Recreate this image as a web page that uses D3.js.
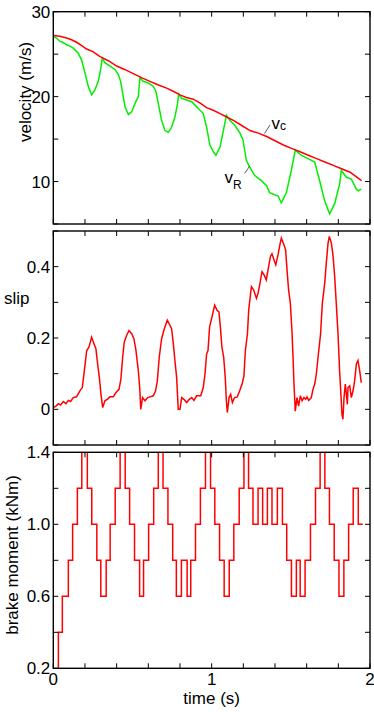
<!DOCTYPE html>
<html>
<head>
<meta charset="utf-8">
<script src="https://cdn.jsdelivr.net/npm/d3@7"></script>
<style>
  body { margin: 0; background: #fff; }
  text { font-family: "Liberation Sans", Arial, Helvetica, sans-serif; fill: #000; }
</style>
</head>
<body>
<div id="chart"></div>
<script>
var width = 374, height = 712;

// velocity panel
var vcTime = [0, 0.042, 0.084, 0.115, 0.147, 0.18, 0.21, 0.25, 0.295, 0.35, 0.4, 0.45, 0.505, 0.56, 0.61, 0.66, 0.716, 0.76, 0.8, 0.84, 0.884, 0.93, 0.968, 1.01, 1.053, 1.095, 1.137, 1.19, 1.242, 1.295, 1.347, 1.4, 1.453, 1.505, 1.558, 1.61, 1.663, 1.715, 1.768, 1.82, 1.874, 1.91, 1.947];
var vcValue = [27.2, 27.1, 26.9, 26.7, 26.4, 26.0, 25.6, 25.3, 24.7, 24.2, 23.6, 23.2, 22.7, 22.2, 21.8, 21.4, 21.0, 20.6, 20.2, 19.9, 19.7, 19.2, 18.7, 18.4, 18.0, 17.6, 17.2, 16.6, 16.0, 15.7, 15.3, 14.8, 14.3, 13.9, 13.5, 13.1, 12.7, 12.3, 11.9, 11.5, 11.1, 10.6, 10.1];

var vrTime = [0, 0.02, 0.042, 0.06, 0.084, 0.1, 0.126, 0.158, 0.179, 0.2, 0.221, 0.242, 0.263, 0.284, 0.299, 0.309, 0.326, 0.358, 0.389, 0.411, 0.425, 0.438, 0.453, 0.474, 0.495, 0.516, 0.537, 0.547, 0.568, 0.6, 0.632, 0.648, 0.663, 0.684, 0.705, 0.726, 0.747, 0.768, 0.783, 0.792, 0.811, 0.842, 0.874, 0.895, 0.916, 0.947, 0.968, 0.989, 1.011, 1.027, 1.053, 1.074, 1.093, 1.116, 1.147, 1.179, 1.198, 1.219, 1.24, 1.272, 1.314, 1.347, 1.366, 1.419, 1.44, 1.472, 1.503, 1.528, 1.566, 1.608, 1.651, 1.682, 1.714, 1.745, 1.777, 1.808, 1.819, 1.851, 1.882, 1.914, 1.926, 1.945];
var vrValue = [27.1, 26.9, 26.5, 26.4, 26.1, 26.0, 25.7, 25.1, 24.3, 22.8, 21.2, 20.2, 20.8, 21.8, 23.2, 24.5, 24.0, 23.6, 23.2, 22.6, 21.8, 20.4, 18.8, 17.9, 18.2, 19.2, 20.0, 22.2, 21.8, 21.6, 21.2, 20.6, 19.2, 17.2, 16.0, 15.8, 16.4, 17.6, 19.0, 20.3, 19.8, 19.6, 19.4, 19.0, 18.6, 18.0, 16.4, 14.3, 13.5, 13.1, 14.1, 16.0, 17.8, 17.2, 16.6, 15.7, 14.9, 12.5, 11.7, 10.7, 10.1, 9.5, 8.7, 8.3, 7.5, 8.7, 11.3, 13.7, 13.1, 12.7, 12.3, 10.1, 7.7, 6.2, 7.4, 9.7, 11.3, 10.5, 10.3, 9.1, 8.9, 9.1];

// slip panel
var slipTime = [0, 0.017, 0.032, 0.046, 0.063, 0.08, 0.095, 0.109, 0.126, 0.147, 0.168, 0.183, 0.196, 0.211, 0.225, 0.242, 0.257, 0.269, 0.28, 0.291, 0.301, 0.312, 0.326, 0.341, 0.358, 0.379, 0.396, 0.415, 0.427, 0.438, 0.448, 0.463, 0.478, 0.495, 0.509, 0.522, 0.537, 0.547, 0.552, 0.564, 0.579, 0.596, 0.611, 0.632, 0.646, 0.657, 0.669, 0.684, 0.701, 0.72, 0.737, 0.747, 0.758, 0.768, 0.779, 0.789, 0.8, 0.811, 0.825, 0.842, 0.859, 0.874, 0.888, 0.905, 0.931, 0.947, 0.958, 0.968, 0.977, 0.987, 1.002, 1.019, 1.034, 1.046, 1.055, 1.065, 1.076, 1.086, 1.093, 1.099, 1.11, 1.12, 1.131, 1.145, 1.162, 1.177, 1.192, 1.204, 1.213, 1.226, 1.234, 1.251, 1.266, 1.283, 1.293, 1.303, 1.318, 1.331, 1.345, 1.356, 1.371, 1.381, 1.394, 1.405, 1.419, 1.429, 1.44, 1.457, 1.467, 1.476, 1.486, 1.497, 1.507, 1.514, 1.52, 1.528, 1.539, 1.549, 1.56, 1.571, 1.583, 1.594, 1.602, 1.613, 1.629, 1.64, 1.651, 1.661, 1.672, 1.688, 1.699, 1.714, 1.724, 1.735, 1.743, 1.756, 1.766, 1.777, 1.787, 1.798, 1.808, 1.815, 1.823, 1.829, 1.836, 1.844, 1.851, 1.857, 1.861, 1.872, 1.882, 1.893, 1.903, 1.914, 1.924, 1.935, 1.945];
var slipValue = [0.005, 0.009, 0.016, 0.012, 0.022, 0.016, 0.025, 0.022, 0.033, 0.035, 0.052, 0.061, 0.108, 0.165, 0.174, 0.202, 0.184, 0.17, 0.127, 0.089, 0.042, 0.005, 0.024, 0.028, 0.035, 0.035, 0.047, 0.056, 0.085, 0.146, 0.188, 0.207, 0.221, 0.212, 0.198, 0.165, 0.108, 0.052, 0.0, 0.033, 0.024, 0.033, 0.035, 0.038, 0.052, 0.08, 0.146, 0.198, 0.226, 0.25, 0.235, 0.226, 0.184, 0.137, 0.089, 0.0, 0.0, 0.033, 0.028, 0.019, 0.028, 0.033, 0.025, 0.038, 0.038, 0.061, 0.099, 0.155, 0.165, 0.231, 0.259, 0.292, 0.278, 0.273, 0.231, 0.174, 0.146, 0.089, 0.024, -0.009, 0.033, 0.042, 0.019, 0.033, 0.035, 0.052, 0.071, 0.094, 0.165, 0.212, 0.278, 0.344, 0.334, 0.311, 0.325, 0.348, 0.386, 0.377, 0.363, 0.391, 0.428, 0.436, 0.419, 0.405, 0.433, 0.457, 0.48, 0.461, 0.447, 0.391, 0.334, 0.297, 0.221, 0.146, 0.071, -0.005, 0.033, 0.009, 0.038, 0.024, 0.033, 0.028, 0.035, 0.025, 0.033, 0.056, 0.071, 0.099, 0.146, 0.212, 0.297, 0.353, 0.41, 0.466, 0.485, 0.466, 0.433, 0.372, 0.297, 0.212, 0.108, 0.052, -0.014, -0.028, 0.033, 0.071, 0.042, 0.014, 0.061, 0.066, 0.033, 0.052, 0.08, 0.127, 0.137, 0.108, 0.075];

// brake moment: value holds from each time until the next one
var momentTime = [0.032, 0.032, 0.057, 0.095, 0.122, 0.152, 0.180, 0.215, 0.243, 0.275, 0.300, 0.334, 0.359, 0.391, 0.422, 0.454, 0.482, 0.513, 0.545, 0.570, 0.602, 0.634, 0.663, 0.693, 0.724, 0.754, 0.777, 0.809, 0.845, 0.868, 0.898, 0.929, 0.961, 0.993, 1.020, 1.050, 1.079, 1.111, 1.140, 1.174, 1.204, 1.233, 1.261, 1.293, 1.322, 1.352, 1.381, 1.415, 1.447, 1.474, 1.504, 1.535, 1.559, 1.590, 1.624, 1.656, 1.685, 1.715, 1.744, 1.774, 1.804, 1.835, 1.865, 1.894, 1.926, 1.954];
var momentValue = [0.2, 0.4, 0.6, 0.8, 1.0, 1.2, 1.4, 1.2, 1.0, 0.8, 0.6, 0.8, 1.0, 1.2, 1.4, 1.2, 1.0, 0.8, 0.6, 0.8, 1.0, 1.2, 1.4, 1.2, 1.0, 0.8, 0.6, 0.8, 0.6, 0.8, 1.0, 1.2, 1.4, 1.2, 1.0, 0.8, 0.6, 0.8, 1.0, 1.2, 1.4, 1.2, 1.0, 1.2, 1.0, 1.2, 1.0, 1.2, 1.0, 0.8, 0.6, 0.8, 0.6, 0.8, 1.0, 1.2, 1.4, 1.2, 1.0, 0.8, 0.6, 0.8, 1.0, 1.2, 1.0, 1.0];

var xTicks = [0, 0.2, 0.4, 0.6, 0.8, 1, 1.2, 1.4, 1.6, 1.8, 2];
var xLabels = [0, 1, 2];

var left = 53.3, right = 370;
var x = d3.scaleLinear().domain([0, 2]).range([left, right]);

var svg = d3.select('#chart').append('svg')
  .attr('width', width)
  .attr('height', height);

svg.append('rect').attr('width', width).attr('height', height).attr('fill', '#fff');

function zip(a, b) {
  return a.map(function(d, i) { return [d, b[i]]; });
}

// one boxed panel, MATLAB style ticks on all four sides
function panel(id, top, bottom, domain, yTicks, yLabels, fmt, showX) {
  var y = d3.scaleLinear().domain(domain).range([bottom, top]);
  var g = svg.append('g');

  g.append('clipPath').attr('id', id)
    .append('rect')
    .attr('x', left).attr('y', top)
    .attr('width', right - left).attr('height', bottom - top);

  var plot = g.append('g').attr('clip-path', 'url(#' + id + ')');

  var ticks = g.append('g').attr('stroke', '#000').attr('stroke-width', 1);
  yTicks.forEach(function(v) {
    ticks.append('line').attr('x1', left).attr('x2', left + 5).attr('y1', y(v)).attr('y2', y(v));
    ticks.append('line').attr('x1', right).attr('x2', right - 5).attr('y1', y(v)).attr('y2', y(v));
  });
  xTicks.forEach(function(v) {
    ticks.append('line').attr('x1', x(v)).attr('x2', x(v)).attr('y1', bottom).attr('y2', bottom - 5);
    ticks.append('line').attr('x1', x(v)).attr('x2', x(v)).attr('y1', top).attr('y2', top + 5);
  });

  g.selectAll('.ylab')
    .data(yLabels)
    .enter()
    .append('text')
    .attr('x', left - 3)
    .attr('y', function(d) { return y(d); })
    .attr('dy', '0.36em')
    .style('text-anchor', 'end')
    .style('font-size', '17px')
    .text(fmt);

  if (showX) {
    g.selectAll('.xlab')
      .data(xLabels)
      .enter()
      .append('text')
      .attr('x', function(d) { return x(d); })
      .attr('y', bottom + 17)
      .style('text-anchor', 'middle')
      .style('font-size', '17px')
      .text(function(d) { return d; });
  }

  return { y: y, plot: plot, g: g, top: top, bottom: bottom };
}

function frame(p) {
  p.g.append('rect')
    .attr('x', left).attr('y', p.top)
    .attr('width', right - left).attr('height', p.bottom - p.top)
    .attr('fill', 'none')
    .attr('stroke', '#000')
    .attr('stroke-width', 1.4);
}

// --- velocity
var p1 = panel('clipV', 11.7, 224, [5, 30], [5, 10, 15, 20, 25, 30], [10, 20, 30], function(d) { return d; }, false);
var lineV = d3.line().x(function(d) { return x(d[0]); }).y(function(d) { return p1.y(d[1]); });
p1.plot.append('path').attr('d', lineV(zip(vrTime, vrValue)))
  .attr('fill', 'none').attr('stroke', '#00ee00').attr('stroke-width', 1.5);
p1.plot.append('path').attr('d', lineV(zip(vcTime, vcValue)))
  .attr('fill', 'none').attr('stroke', '#ff0000').attr('stroke-width', 1.5);
frame(p1);

svg.append('text').attr('transform', 'translate(30.5,92) rotate(-90)')
  .style('text-anchor', 'middle').style('font-size', '17px').text('velocity (m/s)');

// curve labels with leader lines
svg.append('line').attr('x1', 270).attr('y1', 125).attr('x2', 264.5).attr('y2', 133.5)
  .attr('stroke', '#333').attr('stroke-width', 0.8);
var lc = svg.append('text').attr('x', 271.5).attr('y', 129).style('font-size', '17px');
lc.append('tspan').text('v');
lc.append('tspan').attr('dy', 1).style('font-size', '12px').text('c');

svg.append('line').attr('x1', 244.7).attr('y1', 173.3).attr('x2', 249.7).attr('y2', 166)
  .attr('stroke', '#333').attr('stroke-width', 0.8);
var lr = svg.append('text').attr('x', 224.5).attr('y', 183).style('font-size', '17px');
lr.append('tspan').text('v');
lr.append('tspan').attr('dy', 6).style('font-size', '12px').text('R');

// --- slip
var p2 = panel('clipS', 231, 445, [-0.1, 0.5], [-0.1, 0, 0.1, 0.2, 0.3, 0.4, 0.5], [0, 0.2, 0.4], function(d) { return d === 0 ? '0' : d.toFixed(1); }, false);
var lineS = d3.line().x(function(d) { return x(d[0]); }).y(function(d) { return p2.y(d[1]); });
p2.plot.append('path').attr('d', lineS(zip(slipTime, slipValue)))
  .attr('fill', 'none').attr('stroke', '#ff0000').attr('stroke-width', 1.5);
frame(p2);

svg.append('text').attr('x', 4).attr('y', 304).style('font-size', '17px').text('slip');

// --- brake moment
var p3 = panel('clipM', 452.3, 668.3, [0.2, 1.4], [0.2, 0.4, 0.6, 0.8, 1.0, 1.2, 1.4], [0.2, 0.6, 1.0, 1.4], function(d) { return d.toFixed(1); }, true);
var lineM = d3.line().curve(d3.curveStepAfter)
  .x(function(d) { return x(d[0]); }).y(function(d) { return p3.y(d[1]); });
p3.plot.append('path').attr('d', lineM(zip(momentTime, momentValue)))
  .attr('fill', 'none').attr('stroke', '#ff0000').attr('stroke-width', 1.5);
frame(p3);

svg.append('text').attr('transform', 'translate(18,555) rotate(-90)')
  .style('text-anchor', 'middle').style('font-size', '17px').text('brake moment (kNm)');

svg.append('text').attr('x', x(1)).attr('y', 704)
  .style('text-anchor', 'middle').style('font-size', '17px').text('time (s)');
</script>
</body>
</html>
